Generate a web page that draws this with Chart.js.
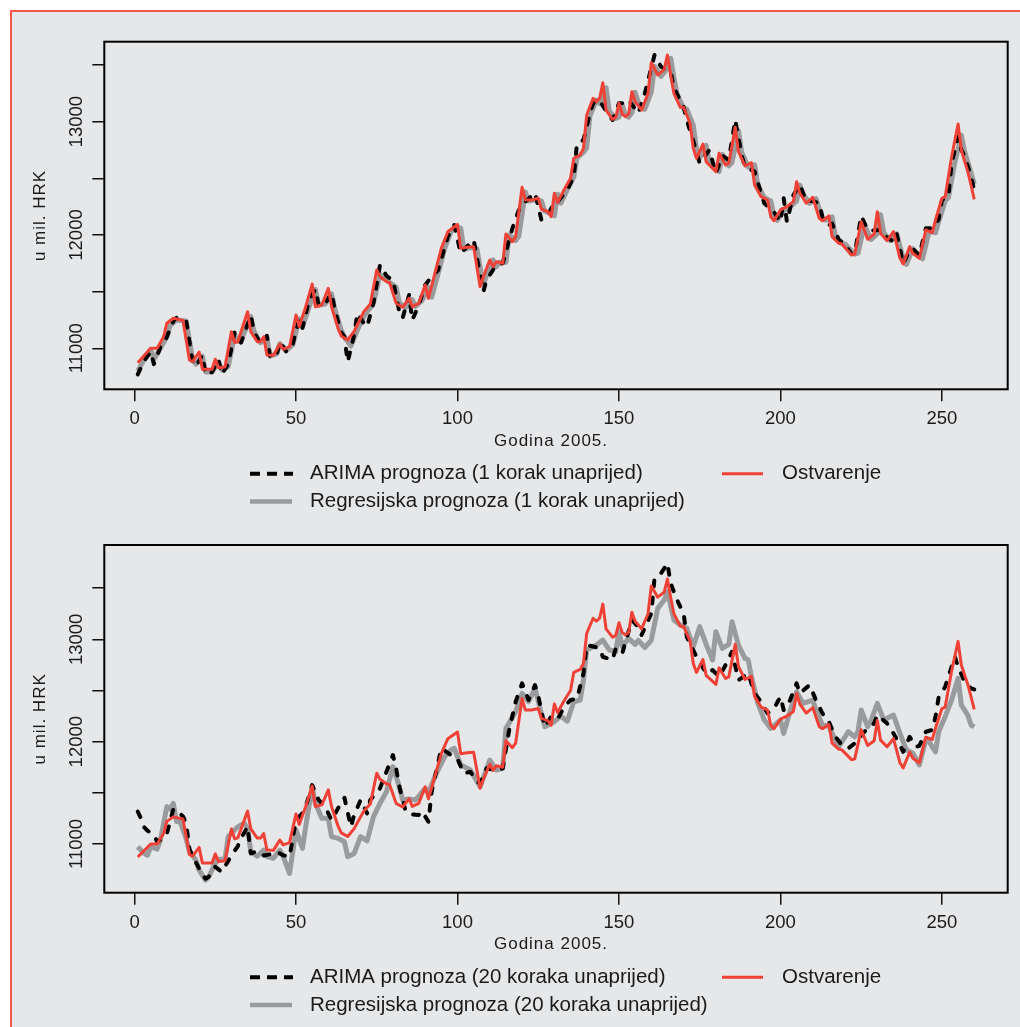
<!DOCTYPE html>
<html>
<head>
<meta charset="utf-8">
<script src="https://cdn.jsdelivr.net/npm/chart.js@4.4.1/dist/chart.umd.min.js"></script>
<style>
  body { margin: 0; background: #fff; width: 1020px; height: 1027px; overflow: hidden; position: relative; }
  #frame { position: absolute; left: 10px; top: 10px; width: 1020px; height: 1040px; background: #e6e7e9;
           border-left: 2px solid #f0584c; border-top: 2px solid #f0584c; }
  canvas { position: absolute; left: 0; }
  #top { top: 0; }
  #bottom { top: 528px; }
</style>
</head>
<body>
<div id="frame"></div>
<canvas id="top" width="1020" height="528"></canvas>
<canvas id="bottom" width="1020" height="499"></canvas>
<script>
// axis ticks
const xTicks = [0, 50, 100, 150, 200, 250];
const yTicks = [11000, 11500, 12000, 12500, 13000, 13500];
const yLabels = [11000, 12000, 13000];

// Ostvarenje (actual), same in both panels
const actualX = [1,5,7,9,10,12,15,17,18,20,21,24,25,26,28,30,31,32,35,36,38,39,40,41,43,45,46,48,50,51,53,55,56,58,60,61,63,64,66,68,70,71,73,75,76,78,79,81,83,85,86,88,90,91,93,95,97,99,100,101,103,105,107,108,110,111,112,114,115,117,118,120,121,123,125,126,128,129,130,131,133,135,136,138,139,140,142,143,144,145,146,148,149,150,151,152,153,154,155,157,159,160,162,164,165,166,167,169,170,172,173,174,176,177,180,181,183,184,186,187,189,191,192,194,196,197,198,200,201,202,204,205,206,208,210,212,213,215,216,218,219,222,223,225,227,229,230,231,233,235,237,238,240,241,243,245,247,248,250,251,253,255,256,258,259,260];
const actualY = [10873,11000,11000,11102,11221,11265,11245,10897,10882,10967,10815,10815,10903,10829,10835,11147,11050,11060,11323,11147,11058,11058,11102,10941,10938,11038,10991,11014,11294,11191,11367,11567,11367,11382,11529,11367,11176,11109,11073,11150,11265,11323,11391,11691,11632,11588,11579,11397,11362,11441,11367,11397,11559,11441,11662,11883,12029,12073,12094,11883,11891,11897,11544,11632,11779,11720,11764,11750,12009,11941,11985,12421,12309,12309,12324,12227,12206,12161,12368,12285,12400,12500,12677,12706,12765,13059,13206,13177,13206,13344,13103,13021,13039,13162,13068,13044,13068,13265,13177,13103,13250,13521,13412,13462,13589,13412,13250,13127,13127,12986,12765,12677,12803,12647,12559,12721,12618,12633,12951,12735,12609,12638,12441,12338,12309,12161,12126,12221,12236,12250,12294,12470,12368,12280,12333,12147,12126,12168,11985,11927,11920,11824,11832,12117,11962,12009,12206,12015,11950,12029,11794,11744,11897,11838,11794,12044,12021,12132,12324,12338,12691,12980,12750,12559,12441,12315];

// ARIMA prognoza (1 korak unaprijed)
const arima1X = [1,3,5,6,8,10,12,13,16,18,19,21,22,24,26,27,29,31,33,36,37,39,41,42,44,45,47,49,51,52,54,56,57,59,61,62,64,65,66,68,69,71,72,74,76,78,80,82,83,85,86,88,90,92,94,97,99,101,103,105,108,109,112,114,117,119,121,124,126,128,130,131,134,136,137,139,141,142,144,145,148,150,152,153,156,158,161,163,164,166,167,170,171,173,175,178,180,182,184,186,188,189,192,194,195,198,200,201,202,204,206,208,210,212,213,215,216,218,220,222,223,225,227,229,231,232,235,236,238,240,241,243,245,247,249,250,252,253,255,256,257,259,260];
const arima1Y = [10770,10890,10970,10860,11010,11100,11240,11270,11240,10880,10840,10940,10770,10790,10900,10770,10860,11140,11050,11290,11140,11040,11110,10920,10940,11060,10970,11040,11260,11180,11420,11520,11380,11390,11490,11340,11140,11100,10880,11120,11310,11220,11190,11400,11735,11640,11600,11323,11265,11470,11250,11380,11559,11632,11691,11985,12088,11838,11900,11956,11500,11603,11735,11750,12059,12221,12294,12373,12132,12177,12290,12294,12397,12515,12809,12838,13074,13162,13190,13140,13015,13162,13162,13191,13074,13250,13589,13485,13470,13441,13300,13132,13015,12830,12633,12750,12545,12700,12662,13015,12700,12603,12560,12368,12280,12200,12117,12324,12117,12353,12441,12300,12300,12280,12160,12088,12100,11960,11920,11830,11840,12168,12044,12040,12044,12000,11941,12010,11744,11868,11880,11820,12059,12059,12140,12309,12340,12633,12868,12750,12700,12515,12397];

// Regresijska prognoza (1 korak unaprijed)
const reg1X = [1,3,5,6,8,10,11,13,16,18,19,21,22,24,26,27,29,31,32,33,36,37,39,41,42,44,45,47,49,51,52,54,56,57,59,61,62,64,65,67,69,71,72,74,76,77,79,81,82,84,86,87,89,91,92,94,96,98,100,101,102,104,106,108,109,111,112,113,115,116,118,119,121,122,124,126,127,129,130,131,132,134,136,137,139,140,141,143,144,145,146,147,149,150,151,152,153,154,155,156,158,160,161,163,165,166,167,168,170,171,173,174,175,177,178,181,182,184,185,187,188,190,192,193,195,197,198,199,201,202,203,205,206,207,209,211,213,214,216,217,219,220,223,224,226,228,230,231,232,234,236,238,239,241,242,244,246,248,249,251,252,254,256,257,259,260];
const reg1Y = [10800,10900,10990,10900,11000,11100,11200,11250,11240,10900,10860,10930,10790,10790,10880,10810,10840,11120,11060,11070,11280,11150,11050,11090,10930,10950,11040,10980,11030,11260,11190,11360,11520,11380,11390,11480,11350,11160,11100,11020,11160,11280,11320,11400,11650,11620,11580,11540,11400,11360,11430,11370,11420,11540,11450,11660,11880,12030,12070,12060,11870,11890,11880,11560,11640,11780,11720,11760,11760,12000,11950,11990,12380,12300,12310,12300,12210,12190,12170,12360,12280,12400,12510,12680,12730,12770,13050,13190,13160,13200,13300,13090,13030,13040,13150,13060,13040,13080,13260,13170,13110,13260,13490,13400,13470,13560,13390,13240,13120,13110,12970,12760,12680,12790,12640,12560,12710,12610,12640,12920,12730,12600,12620,12440,12330,12300,12170,12130,12220,12230,12250,12300,12440,12360,12280,12320,12140,12130,12160,11990,11930,11920,11830,11840,12090,11960,12010,12180,12020,11950,12010,11790,11740,11880,11840,11790,12030,12020,12120,12300,12330,12640,12880,12740,12550,12450];

// ARIMA prognoza (20 koraka unaprijed)
const arima20X = [1,2,3,4,6,7,8,10,12,13,15,16,17,19,21,22,23,25,27,28,30,32,33,35,36,38,40,42,44,46,48,50,52,53,55,57,59,61,63,65,67,68,70,72,73,76,78,80,81,82,84,86,88,89,91,92,95,98,100,102,104,106,107,109,112,114,116,118,120,122,124,125,127,129,131,133,135,137,139,140,142,144,145,148,149,151,154,156,157,160,161,163,165,166,168,170,171,174,177,179,181,183,185,187,190,192,194,196,198,200,201,203,205,206,209,211,213,215,217,219,221,223,226,229,230,233,235,237,238,240,242,243,245,247,248,249,251,252,254,255,257,259,260];
const arima20Y = [11316,11251,11163,11130,11087,11022,11040,11100,11340,11330,11270,11200,10950,10820,10700,10660,10680,10776,10727,10780,10887,10980,11055,11169,10908,10930,10887,10900,10925,10890,10876,11234,11300,11365,11576,11430,11365,11234,11348,11452,11169,11283,11430,11299,11430,11544,11706,11869,11739,11560,11315,11290,11283,11320,11218,11510,11935,11869,11830,11690,11706,11608,11592,11739,11720,11739,12113,12390,12570,12407,12553,12450,12146,12244,12220,12341,12407,12420,12668,12944,12930,12912,12830,12798,12912,12863,13189,13120,13042,13254,13596,13645,13743,13547,13384,13254,13025,12830,12668,12700,12635,12749,12879,12602,12668,12472,12390,12277,12325,12439,12309,12407,12570,12472,12553,12407,12277,12195,12048,11967,11935,11983,12097,12179,12260,12179,12081,11967,11901,12048,11950,11960,12097,12114,12244,12439,12537,12635,12830,12732,12586,12521,12510];

// Regresijska prognoza (20 koraka unaprijed)
const reg20X = [1,3,4,5,7,8,10,11,12,13,14,16,17,19,20,22,23,25,26,28,29,32,34,35,36,38,40,41,43,45,46,48,50,52,53,55,56,58,60,61,63,65,66,68,70,72,74,76,78,80,82,83,85,87,90,91,93,96,98,99,101,104,107,110,112,114,115,118,120,122,124,127,130,132,134,136,138,139,140,143,145,147,149,150,151,153,155,156,158,160,162,164,165,167,169,171,173,175,177,179,180,182,184,185,187,189,190,191,193,195,197,200,201,203,205,207,210,211,213,215,217,218,221,223,224,225,227,228,230,232,235,237,239,241,243,245,246,248,249,251,253,255,256,258,259,260];
const reg20Y = [10973,10908,10890,10973,10950,11038,11365,11340,11397,11218,11230,11050,10925,10843,10745,10648,10681,10811,10850,10850,11072,11169,11202,11150,10925,10880,10941,10876,10860,10941,10880,10713,11136,10957,11169,11560,11397,11251,11251,11072,11055,11022,10876,10908,11072,11030,11267,11397,11510,11755,11560,11430,11440,11430,11544,11500,11657,11852,11918,11935,11772,11723,11560,11820,11723,11740,12130,12292,12472,12390,12521,12146,12195,12250,12200,12390,12407,12600,12896,12944,12993,12896,12880,13074,12930,13010,12950,12990,12920,12990,13303,13384,13465,13189,13140,13108,12928,13124,12950,12798,13074,12912,12950,13172,12944,12814,12800,12635,12374,12211,12130,12211,12081,12300,12488,12374,12407,12309,12163,12150,12016,11950,12097,12048,12100,12309,12146,12200,12374,12211,12260,12081,11918,11886,11772,12016,12000,11901,12097,12244,12407,12619,12358,12260,12163,12144];

const RED = "#ef4136";
const GREY = "#9a9b9d";
const FONT = '"Liberation Sans", Arial, sans-serif';

const pts = (xs, ys) => xs.map((x, i) => ({ x: x, y: ys[i] }));

// box around the plot, rotated y labels, axis titles and legend drawn by hand (R look)
const decor = {
  id: "decor",
  afterDraw(chart) {
    const o = chart.options.plugins.decor;
    const ctx = chart.ctx;
    const a = chart.chartArea;
    const ys = chart.scales.y;
    ctx.save();
    ctx.strokeStyle = "#000";
    ctx.lineWidth = 2;
    ctx.strokeRect(a.left, a.top, a.right - a.left, a.bottom - a.top);

    ctx.fillStyle = "#1a1a1a";
    ctx.textAlign = "center";
    ctx.textBaseline = "middle";
    ctx.font = "18.5px " + FONT;
    yLabels.forEach(v => {
      ctx.save();
      ctx.translate(76.5, ys.getPixelForValue(v));
      ctx.rotate(-Math.PI / 2);
      ctx.fillText(String(v), 0, 0);
      ctx.restore();
    });

    ctx.font = "17px " + FONT;
    ctx.letterSpacing = "1px";
    ctx.save();
    ctx.translate(40, (a.top + a.bottom) / 2);
    ctx.rotate(-Math.PI / 2);
    ctx.fillText("u mil. HRK", 0, 0);
    ctx.restore();
    ctx.fillText("Godina 2005.", 551, a.bottom + 52);
    ctx.letterSpacing = "0px";

    // legend
    const r1 = a.bottom + 84.5, r2 = a.bottom + 112.3;
    ctx.lineCap = "butt";
    ctx.strokeStyle = "#000";
    ctx.lineWidth = 4;
    ctx.setLineDash([10, 7]);
    ctx.beginPath(); ctx.moveTo(250, r1); ctx.lineTo(293, r1); ctx.stroke();
    ctx.setLineDash([]);
    ctx.strokeStyle = GREY;
    ctx.lineWidth = 4.5;
    ctx.beginPath(); ctx.moveTo(250, r2); ctx.lineTo(292, r2); ctx.stroke();
    ctx.strokeStyle = RED;
    ctx.lineWidth = 3;
    ctx.beginPath(); ctx.moveTo(722, r1); ctx.lineTo(763, r1); ctx.stroke();

    ctx.font = "20.5px " + FONT;
    ctx.textAlign = "left";
    ctx.fillText(o.labels[0], 310, r1);
    ctx.fillText(o.labels[1], 310, r2);
    ctx.fillText("Ostvarenje", 782, r1);
    ctx.restore();
  }
};

function panel(id, arimaX, arimaY, regX, regY, yMin, yMax, padTop, xHeight, labels) {
  return new Chart(document.getElementById(id), {
    type: "line",
    data: {
      datasets: [
        { label: "Ostvarenje", data: pts(actualX, actualY), borderColor: RED, borderWidth: 3 },
        { label: labels[0], data: pts(arimaX, arimaY), borderColor: "#000", borderWidth: 4,
          borderDash: [6, 11], borderCapStyle: "round" },
        { label: labels[1], data: pts(regX, regY), borderColor: GREY, borderWidth: 5 }
      ]
    },
    options: {
      responsive: false,
      animation: false,
      devicePixelRatio: 1,
      elements: { point: { radius: 0 }, line: { tension: 0, fill: false, borderJoinStyle: "round" } },
      layout: { padding: { top: padTop, right: 12.3, left: 0, bottom: 0 } },
      plugins: { legend: { display: false }, tooltip: { enabled: false }, decor: { labels: labels } },
      scales: {
        x: {
          type: "linear", min: -9.36, max: 270.36,
          afterBuildTicks: s => { s.ticks = xTicks.map(v => ({ value: v })); },
          afterFit: s => { s.height = xHeight; },
          border: { display: false },
          grid: { drawOnChartArea: false, drawTicks: true, tickLength: 12, color: "#111", lineWidth: 1.5 },
          ticks: { color: "#1a1a1a", padding: 7, maxRotation: 0, font: { family: FONT, size: 18.5 } }
        },
        y: {
          type: "linear", min: yMin, max: yMax,
          afterBuildTicks: s => { s.ticks = yTicks.map(v => ({ value: v })); },
          afterFit: s => { s.width = 104.3; },
          border: { display: false },
          grid: { drawOnChartArea: false, drawTicks: true, tickLength: 12, color: "#111", lineWidth: 1.5 },
          ticks: { display: false }
        }
      }
    },
    plugins: [decor]
  });
}

panel("top", arima1X, arima1Y, reg1X, reg1Y, 10638, 13706, 41.7, 138.7,
  ["ARIMA prognoza (1 korak unaprijed)", "Regresijska prognoza (1 korak unaprijed)"]);
panel("bottom", arima20X, arima20Y, reg20X, reg20Y, 10524, 13922, 17, 134.3,
  ["ARIMA prognoza (20 koraka unaprijed)", "Regresijska prognoza (20 koraka unaprijed)"]);
</script>
</body>
</html>
